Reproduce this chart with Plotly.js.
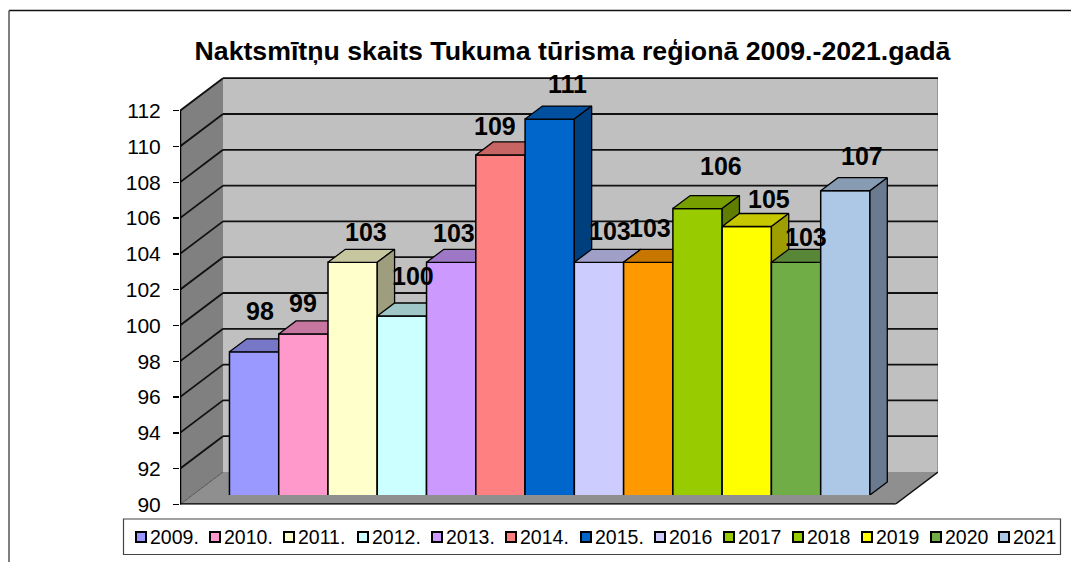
<!DOCTYPE html>
<html>
<head>
<meta charset="utf-8">
<script src="https://cdn.plot.ly/plotly-3.0.1.min.js"></script>
<style>html,body{margin:0;padding:0;background:#fff}</style>
</head>
<body>
<div id="chart" style="width:1071px;height:562px"></div>
<script>
const years = ["2009.","2010.","2011.","2012.","2013.","2014.","2015.","2016","2017","2018","2019","2020","2021"];
const values = [98,99,103,100,103,109,111,103,103,106,105,103,107];
const colors = ["#9999FF","#FF99CC","#FFFFCC","#CCFFFF","#CC99FF","#FF8080","#0066CC","#CCCCFF","#FF9900","#99CC00","#FFFF00","#70AD47","#ADC7E6"];
const legendColors = ["#9999FF","#FF99CC","#FFFFCC","#CCFFFF","#CC99FF","#FF8080","#0066CC","#CCCCFF","#99CC00","#99CC00","#FFFF00","#70AD47","#ADC7E6"];
const legendTextX = [150,224,298,372,446,520,595,669,738,807,876,945,1013];
const labelShiftX = [6,0,13,11,3,-5,18,11,2,23,22,10,17];
const labelShiftY = [41,31,30,40,29,29,35,31,34,43,28,25,35];
const titleText = "Naktsmītņu skaits Tukuma tūrisma reģionā 2009.-2021.gadā";

const W = 1071, H = 562;
const pxPerUnitY = 17.9, pxPerBar = 49.27;
const plotLeft = 180, plotRight = 938, plotTop = 70, floorY = 504.5, barFloorY = 495;
const firstCenter = 254.1;
const xAt = p => (p - firstCenter) / pxPerBar;
const wallDx = 43 / pxPerBar, wallDy = 32.5 / pxPerUnitY;
const barDx = 17.3 / pxPerBar, barDy = 13 / pxPerUnitY;
const x0 = xAt(plotLeft), x1 = xAt(plotRight - 43);
const axisTop = 112;

function shade(hex, f) {
  const n = parseInt(hex.slice(1), 16);
  const c = [(n >> 16) & 255, (n >> 8) & 255, n & 255].map(v => Math.round(v * f));
  return `rgb(${c.join(",")})`;
}
function poly(pts) {
  return "M" + pts.map(p => p[0] + " " + p[1]).join("L") + "Z";
}
function dataShape(pts, fill) {
  return {type:"path", xref:"x", yref:"y", layer:"below", path:poly(pts), fillcolor:fill, line:{color:fill, width:0}};
}
function dataLine(a, b, color, width) {
  return {type:"line", xref:"x", yref:"y", layer:"below", x0:a[0], y0:a[1], x1:b[0], y1:b[1], line:{color:color, width:width}};
}

const shapes = [];
// outer frame
shapes.push({type:"line", xref:"paper", yref:"paper", x0:9/W, x1:1, y0:1-10.5/H, y1:1-10.5/H, line:{color:"#111", width:1.5}});
shapes.push({type:"line", xref:"paper", yref:"paper", x0:9/W, x1:9/W, y0:1-10.5/H, y1:0, line:{color:"#555", width:1.5}});
// walls
const bx0 = x0 + wallDx, bx1 = x1 + wallDx, by0 = 90 + wallDy, by1 = axisTop + wallDy;
shapes.push(dataShape([[bx0,by0],[bx1,by0],[bx1,by1],[bx0,by1]], "#C0C0C0"));
shapes.push(dataShape([[x0,90],[bx0,by0],[bx0,by1],[x0,axisTop]], "#808080"));
shapes.push(dataShape([[x0,90],[x1,90],[bx1,by0],[bx0,by0]], "#8F8F8F"));
shapes.push(dataLine([bx1,by0],[bx1,by1],"#8A8A8A",1.5));
for (let v = 92; v <= axisTop; v += 2) {
  shapes.push(dataLine([x0,v],[bx0,v+wallDy],"#111",1.8));
  shapes.push(dataLine([bx0,v+wallDy],[bx1,v+wallDy],"#111",1.8));
}
shapes.push(dataLine([x0,90],[bx0,by0],"#555",1));
shapes.push(dataLine([x1,90],[bx1,by0],"#111",1.5));
shapes.push(dataLine([x0,90],[x0,axisTop],"#000",2.5));
shapes.push(dataLine([x0,90],[x1,90],"#000",2.5));
// legend box
shapes.push({type:"rect", xref:"paper", yref:"paper", x0:123.5/W, x1:1060.5/W, y0:1-554.5/H, y1:1-519/H,
             fillcolor:"#fff", line:{color:"#444", width:1.2}});
// legend swatches
legendTextX.forEach((tx, i) => {
  shapes.push({type:"rect", xref:"paper", yref:"paper", x0:(tx-14)/W, x1:(tx-4)/W, y0:1-542/H, y1:1-532/H,
               fillcolor:legendColors[i], line:{color:"#000", width:2}});
});

const traces = [];
values.forEach((v, i) => {
  const L = i - 0.5, R = i + 0.5;
  const common = {xaxis:"x", yaxis:"y2", type:"scatter", mode:"lines", fill:"toself", showlegend:false,
                  hoverinfo:"skip", line:{color:"#000", width:1.3}};
  traces.push({type:"bar", name:years[i], x:[i], y:[v], width:1, xaxis:"x", yaxis:"y2", showlegend:false,
               marker:{color:colors[i], line:{color:"#000", width:1.5}}, zorder:3*i+1});
  traces.push(Object.assign({}, common, {
    x:[L,R,R+barDx,L+barDx,L], y:[v,v,v+barDy,v+barDy,v], fillcolor:shade(colors[i],0.78), zorder:3*i+2}));
  traces.push(Object.assign({}, common, {
    x:[R,R,R+barDx,R+barDx,R], y:[90,v,v+barDy,90+barDy,90], fillcolor:shade(colors[i],0.62), zorder:3*i+3}));
});

const annotations = values.map((v, i) => ({
  xref:"x", yref:"y2", x:i, y:v, text:String(v), showarrow:false,
  xshift:labelShiftX[i], yshift:labelShiftY[i],
  xanchor:"center", yanchor:"middle",
  font:{family:"Liberation Sans, Arial, sans-serif", size:25, color:"#000", weight:700}
}));
years.forEach((y, i) => {
  annotations.push({xref:"paper", yref:"paper", x:legendTextX[i]/W, y:1-536.5/H, text:y, showarrow:false,
    xanchor:"left", yanchor:"middle", borderpad:0, borderwidth:0,
    font:{family:"Liberation Sans, Arial, sans-serif", size:19.5, color:"#000"}});
});

const layout = {
  width:W, height:H, margin:{l:0,r:0,t:0,b:0,autoexpand:false},
  paper_bgcolor:"#fff", plot_bgcolor:"rgba(0,0,0,0)",
  font:{family:"Liberation Sans, Arial, sans-serif", color:"#000"},
  title:{text:titleText, x:572.5/W, xanchor:"center", xref:"paper", y:1-51/H, yanchor:"middle", yref:"paper",
         font:{size:26.7, weight:700, color:"#000", family:"Liberation Sans, Arial, sans-serif"}},
  barmode:"overlay", bargap:0, showlegend:false,
  xaxis:{domain:[plotLeft/W, plotRight/W], range:[x0, x0 + (plotRight-plotLeft)/pxPerBar], visible:false, fixedrange:true},
  yaxis:{domain:[1-floorY/H, 1-plotTop/H], range:[90, 90+(floorY-plotTop)/pxPerUnitY], anchor:"x",
         tickmode:"array", tickvals:[90,92,94,96,98,100,102,104,106,108,110,112],
         ticks:"outside", ticklen:6, tickwidth:1.5, tickcolor:"#000", showgrid:false, zeroline:false, showline:false,
         ticklabelstandoff:8, tickfont:{size:21,color:"#000"}, fixedrange:true},
  yaxis2:{domain:[1-barFloorY/H, 1-plotTop/H], range:[90, 90+(barFloorY-plotTop)/pxPerUnitY], anchor:"x",
          visible:false, fixedrange:true},
  shapes, annotations
};
Plotly.newPlot("chart", traces, layout, {staticPlot:true, displayModeBar:false});
</script>
</body>
</html>
